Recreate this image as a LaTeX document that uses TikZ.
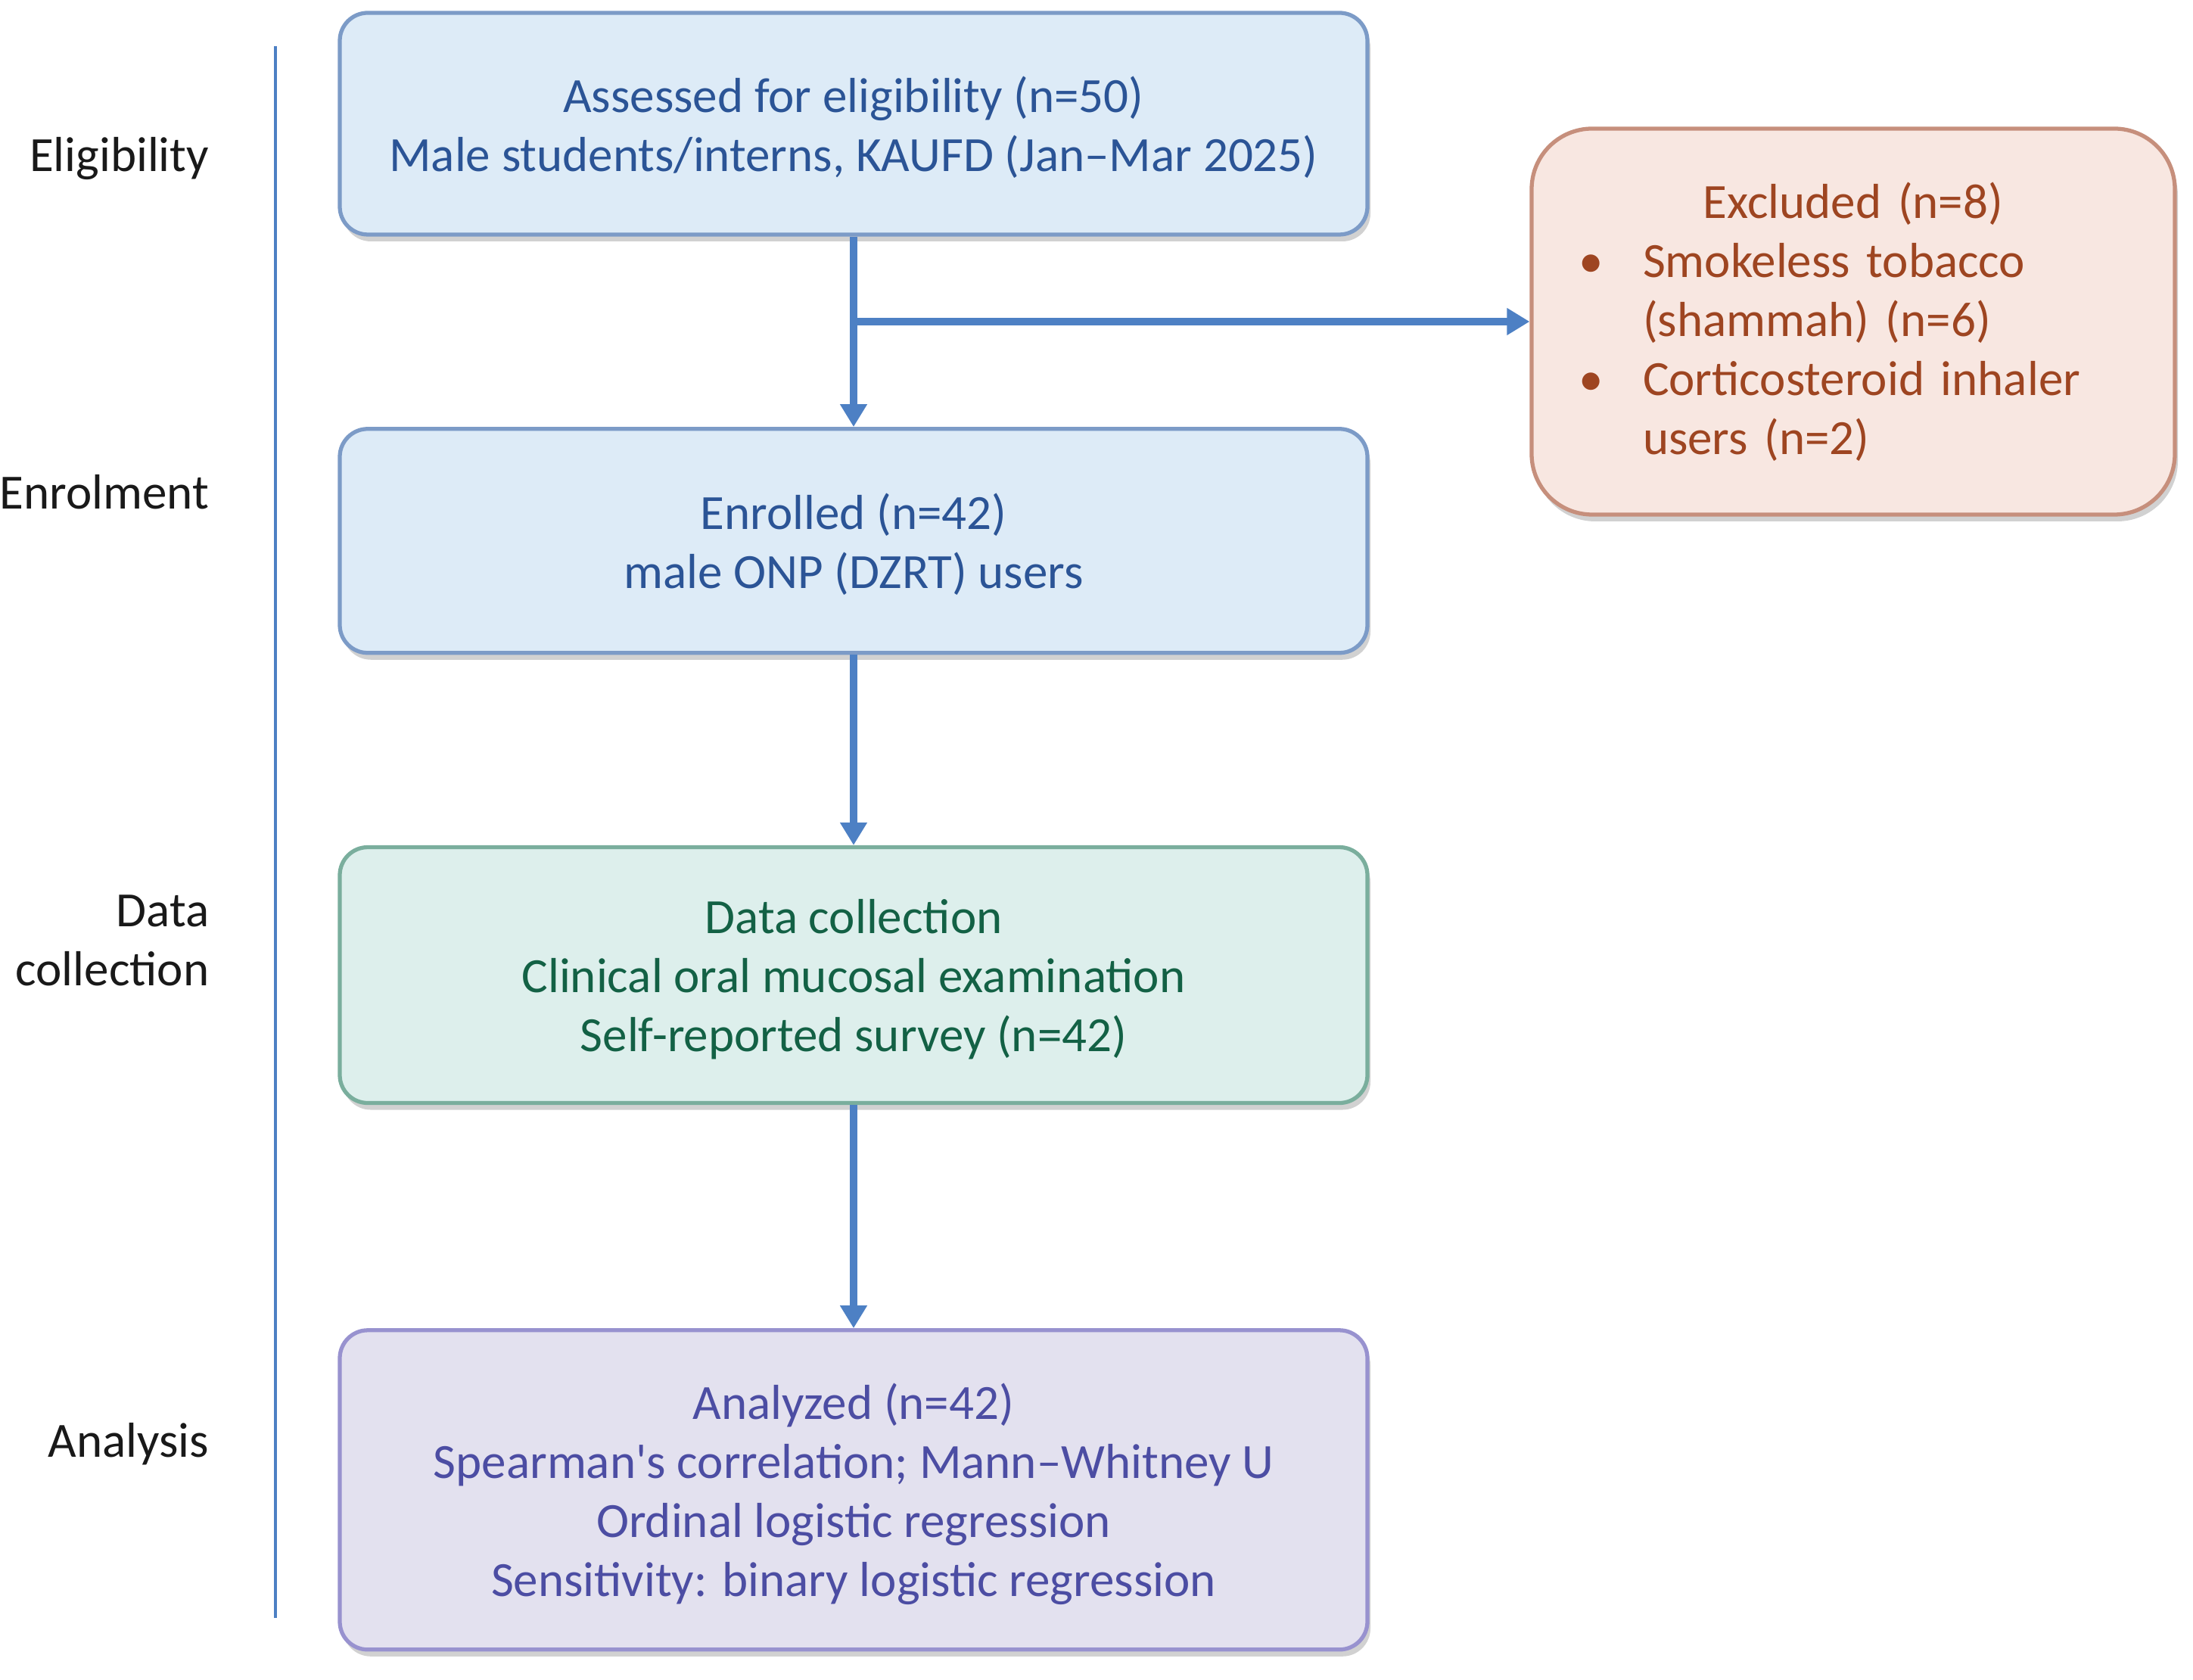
\documentclass[tikz,border=0pt]{standalone}
\usepackage{fontspec}
\setmainfont{Carlito}[Ligatures=TeXOff]
\usetikzlibrary{arrows.meta,positioning,calc,shadows}
\definecolor{Arrow}{HTML}{4D80C4}
\definecolor{BlueFill}{HTML}{DDEBF7}
\definecolor{BlueLine}{HTML}{7C9BC7}
\definecolor{BlueText}{HTML}{2B5496}
\definecolor{RoseFill}{HTML}{F8E7E1}
\definecolor{RoseLine}{HTML}{C68F7C}
\definecolor{RoseText}{HTML}{9E4521}
\definecolor{MintFill}{HTML}{DDEFEC}
\definecolor{MintLine}{HTML}{7AAE9D}
\definecolor{MintText}{HTML}{136145}
\definecolor{LilacFill}{HTML}{E3E1EF}
\definecolor{LilacLine}{HTML}{9892CF}
\definecolor{LilacText}{HTML}{4C4DA3}
\tikzset{
  arr/.style={-{Triangle[length=0.3cm,width=0.34cm]},line width=2.6pt,draw=Arrow},
  stage/.style={anchor=east,inner sep=0pt,align=right,text=black!90,font=\fontsize{18.5}{22.2}\selectfont},
  basebox/.style={rounded corners=0.37cm,line width=1.5pt,minimum width=13.58cm,align=center,
    font=\fontsize{18.5}{22.2}\selectfont,text depth=0pt,
    drop shadow={shadow xshift=0.04cm,shadow yshift=-0.09cm,fill=black,opacity=0.18}},
  bluebox/.style={basebox,draw=BlueLine,fill=BlueFill,text=BlueText},
  rosebox/.style={basebox,draw=RoseLine,fill=RoseFill,text=RoseText,rounded corners=0.8cm,text depth=},
  mintbox/.style={basebox,draw=MintLine,fill=MintFill,text=MintText},
  lilacbox/.style={basebox,draw=LilacLine,fill=LilacFill,text=LilacText}
}

\begin{document}
\begin{tikzpicture}
  \useasboundingbox (0,0) rectangle (28.98,22.2);
  % boxes
  \node[bluebox,minimum height=2.93cm] (a) at (11.28,20.565)
    {Assessed for eligibility (n=50)\\Male students/interns, KAUFD (Jan–Mar 2025)};
  \node[bluebox,below=2.515cm of a,minimum height=2.96cm] (b)
    {Enrolled (n=42)\\male ONP (DZRT) users};
  \node[mintbox,below=2.515cm of b,minimum height=3.38cm] (c)
    {Data collection\\Clinical oral mucosal examination\\Self-reported survey (n=42)};
  \node[lilacbox,below=2.95cm of c,minimum height=4.22cm] (d)
    {Analyzed (n=42)\\Spearman's correlation; Mann–Whitney U\\Ordinal logistic regression\\Sensitivity: binary logistic regression};
  \node[rosebox,minimum width=8.5cm,minimum height=5.1cm,text width=7.1cm,inner xsep=0.7cm,align=left] (x) at (24.49,17.95)
    {\makebox[\linewidth]{Excluded (n=8)}\\
     \makebox[0.77cm][l]{\hspace{-0.08cm}•}Smokeless tobacco\\
     \hspace*{0.77cm}(shammah) (n=6)\\
     \makebox[0.77cm][l]{\hspace{-0.08cm}•}Corticosteroid inhaler\\
     \hspace*{0.77cm}users (n=2)};
  % stage labels and divider
  \node[stage] (la) at (2.77,20.10) {Eligibility};
  \node[stage] (lb) at (2.77,15.70) {Enrolment};
  \node[stage] (lc) at (2.77,9.77) {Data\\collection};
  \node[stage] (ld) at (2.77,3.12) {Analysis};
  \coordinate (ltop) at (3.64,21.59);
  \coordinate (lbot) at (3.64,0.82);
  \draw[line width=1.4pt,draw=Arrow] (ltop) -- (lbot);
  % arrows
  \coordinate (split) at (a.south |- x.west);
  \draw[arr] (a) -- (b);
  \draw[arr] (split) -- (x.west);
  \draw[arr] (b) -- (c);
  \draw[arr] (c) -- (d);
\end{tikzpicture}
\end{document}
